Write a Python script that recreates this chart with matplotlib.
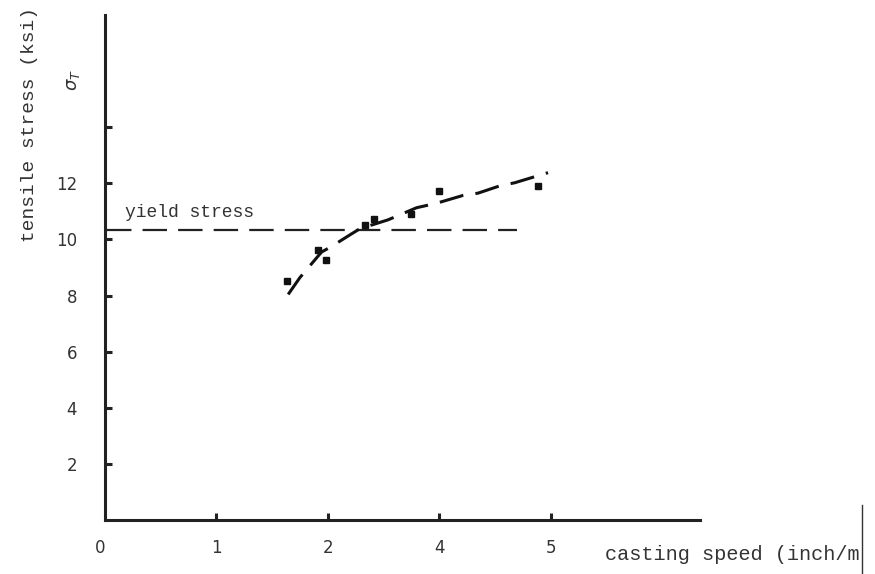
import matplotlib
matplotlib.use("Agg")
import matplotlib.pyplot as plt
from matplotlib.lines import Line2D

# axis positions (the original plot labels the 3rd tick "4" and 4th "5")
x_ticks = [1, 2, 3, 4]
x_tick_labels = ["1", "2", "4", "5"]
y_ticks = [2, 4, 6, 8, 10, 12, 14]
y_tick_labels = ["2", "4", "6", "8", "10", "12", ""]

# measured points (casting speed axis position, tensile stress ksi)
pts_x = [1.635, 1.913, 1.979, 2.332, 2.415, 2.75, 2.998, 3.886]
pts_y = [8.52, 9.63, 9.28, 10.52, 10.74, 10.89, 11.72, 11.92]

# fitted trend curve
fit_x = [1.644, 1.749, 1.943, 2.033, 2.213, 2.287, 2.541, 2.796, 2.975,
         3.214, 3.348, 3.543, 3.677, 3.976]
fit_y = [8.04, 8.64, 9.55, 9.75, 10.20, 10.38, 10.70, 11.13, 11.29,
         11.57, 11.65, 11.91, 12.02, 12.38]

yield_stress = 10.32
yield_x = [0.02, 3.70]

MONO = "Liberation Mono"

fig = plt.figure(figsize=(8.75, 5.74), dpi=100)
ax = fig.add_axes([105 / 875, 54 / 574, 595 / 875, 505 / 574])
ax.set_xlim(0, 5.34)
ax.set_ylim(0, 18)

for s in ("top", "right"):
    ax.spines[s].set_visible(False)
for s in ("left", "bottom"):
    ax.spines[s].set_linewidth(2.2)
    ax.spines[s].set_color("#222222")

ax.set_xticks(x_ticks)
ax.set_xticklabels(x_tick_labels)
ax.set_yticks(y_ticks)
ax.set_yticklabels(y_tick_labels)
ax.tick_params(axis="both", direction="in", length=5, width=2.2, color="#222222",
               labelsize=12, labelcolor="#333333")
ax.tick_params(axis="y", pad=20)
ax.tick_params(axis="x", pad=14)

ax.text(-0.045, -1.0, "0", ha="center", va="center", fontsize=12, color="#333333")

ax.plot(yield_x, [yield_stress, yield_stress], color="#222222", lw=1.6,
        dashes=(11, 5))
ax.text(0.18, yield_stress + 0.35, "yield stress", family=MONO, fontsize=13,
        color="#333333", va="bottom")

ax.plot(fit_x, fit_y, color="#111111", lw=2.2, dashes=(8, 4))
ax.plot(pts_x, pts_y, "s", color="#111111", ms=5)

fig.text(30 / 875, 1 - 125 / 574, "tensile stress (ksi)", rotation=90, family=MONO,
         fontsize=14, color="#333333", ha="center", va="center")
fig.text(73 / 875, 1 - 80 / 574, r"$\sigma_T$", rotation=90, fontsize=13,
         color="#333333", ha="center", va="center")
fig.text(605 / 875, 1 - 555 / 574, "casting speed (inch/m", family=MONO,
         fontsize=14.6, color="#333333", ha="left", va="center")
fig.add_artist(Line2D([862 / 875, 862 / 875], [0, 69 / 574], color="#333333", lw=1))

fig.savefig("out.png", dpi=100)
